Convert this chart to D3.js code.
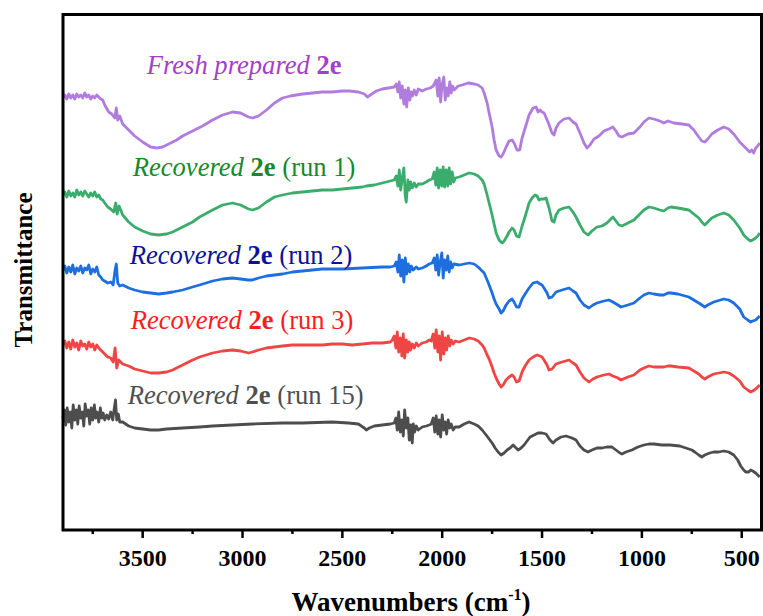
<!DOCTYPE html>
<html>
<head>
<meta charset="utf-8">
<script src="https://cdn.jsdelivr.net/npm/d3@7"></script>
<style>
  html, body { margin: 0; padding: 0; background: #fff; }
  svg { display: block; }
</style>
</head>
<body>
<svg id="chart" width="763" height="616"></svg>
<script>
// FTIR spectra: [wavenumber (cm-1), transmittance (a.u., stacked offset)]
const fresh = [
  [3900,86.6],[3890,87.0],[3880,86.2],[3870,87.2],[3860,86.4],[3850,87.0],[3840,86.2],[3830,87.2],[3820,86.6],[3810,87.0],
  [3800,86.4],[3790,87.4],[3780,86.6],[3770,87.0],[3760,86.2],[3750,86.8],[3740,86.4],[3730,87.0],[3720,86.6],[3710,86.2],
  [3700,86.0],[3690,85.0],[3670,83.6],[3655,83.2],[3640,82.4],[3632,84.4],[3625,82.0],[3615,82.8],[3600,81.2],[3570,80.0],
  [3540,78.8],[3500,77.6],[3460,76.6],[3430,76.4],[3400,76.6],[3370,77.2],[3330,78.0],[3300,78.8],[3250,79.8],[3200,80.8],
  [3150,82.0],[3100,83.0],[3050,83.6],[3010,83.4],[2970,82.6],[2950,82.4],[2920,82.8],[2880,84.0],[2840,85.4],[2800,86.4],
  [2760,86.8],[2700,87.2],[2650,87.4],[2600,87.6],[2550,87.6],[2500,87.8],[2465,87.8],[2420,87.6],[2390,87.2],[2375,86.6],
  [2360,87.0],[2330,87.8],[2300,88.2],[2270,88.4],[2240,88.6],[2230,89.2],[2222,87.6],[2215,89.6],[2208,86.4],[2200,88.8],
  [2192,85.2],[2185,88.0],[2178,84.6],[2170,88.4],[2162,86.0],[2155,87.6],[2148,86.8],[2140,88.0],[2130,87.0],[2120,88.2],
  [2100,87.8],[2080,88.2],[2060,88.4],[2045,88.8],[2030,90.0],[2022,86.8],[2015,90.4],[2008,85.6],[2000,89.2],[1992,90.6],
  [1985,86.0],[1978,88.4],[1970,86.8],[1962,89.6],[1955,87.4],[1948,88.8],[1940,88.0],[1920,88.8],[1900,89.0],[1870,89.4],
  [1840,89.2],[1820,89.0],[1800,88.4],[1790,87.4],[1775,85.4],[1765,83.4],[1750,80.6],[1740,78.0],[1730,76.0],[1715,74.8],
  [1705,74.6],[1695,75.2],[1680,76.6],[1665,77.8],[1650,78.0],[1640,77.4],[1625,76.0],[1612,76.0],[1600,78.4],[1580,81.0],
  [1565,83.0],[1545,84.4],[1530,84.6],[1520,83.6],[1510,84.0],[1500,83.6],[1490,83.4],[1470,81.6],[1450,79.4],[1440,79.0],
  [1430,80.4],[1415,81.4],[1390,82.2],[1365,82.4],[1345,81.6],[1330,81.2],[1310,79.4],[1290,77.4],[1275,76.4],[1260,77.0],
  [1240,78.2],[1215,78.8],[1190,79.8],[1165,80.2],[1145,80.6],[1130,79.8],[1115,78.8],[1100,78.6],[1070,79.2],[1040,79.4],
  [1010,80.6],[990,81.6],[965,82.4],[940,82.2],[910,81.8],[890,81.4],[870,81.8],[840,81.4],[800,81.2],[765,81.0],
  [740,80.0],[715,78.6],[700,77.8],[685,77.6],[670,78.2],[650,79.2],[620,80.0],[590,80.6],[565,80.2],[540,79.2],
  [510,77.6],[480,76.4],[460,75.6],[450,76.0],[440,75.4],[430,76.4],[420,76.8],[410,77.4]
];

const run1 = [
  [3900,67.0],[3890,67.6],[3880,66.6],[3870,67.8],[3860,66.8],[3850,67.4],[3840,66.6],[3830,68.0],[3820,67.0],[3810,67.6],
  [3800,66.8],[3790,67.8],[3780,67.2],[3770,66.6],[3760,67.4],[3750,66.8],[3740,67.6],[3730,66.6],[3720,67.0],[3710,66.2],
  [3700,66.0],[3690,65.4],[3675,64.6],[3660,64.2],[3645,63.6],[3635,65.4],[3628,63.2],[3618,64.8],[3600,63.0],[3570,61.6],
  [3540,60.6],[3500,59.8],[3460,59.2],[3420,59.0],[3380,59.2],[3350,59.6],[3300,60.6],[3250,61.6],[3215,62.6],[3150,64.0],
  [3100,65.0],[3050,65.4],[3010,65.0],[2970,64.2],[2950,64.0],[2920,64.4],[2880,65.6],[2840,66.6],[2800,67.0],[2750,67.4],
  [2700,67.6],[2650,67.8],[2600,68.0],[2550,68.0],[2500,68.2],[2450,68.4],[2400,68.6],[2380,68.8],[2340,69.0],[2300,69.4],
  [2260,69.8],[2240,70.0],[2230,70.8],[2222,68.8],[2215,72.0],[2208,68.0],[2200,70.4],[2192,72.4],[2185,66.8],[2180,65.6],
  [2172,70.0],[2165,68.0],[2158,69.6],[2150,68.4],[2140,69.4],[2130,68.6],[2120,69.2],[2100,69.2],[2080,69.6],[2065,70.0],
  [2050,70.2],[2040,71.6],[2032,69.0],[2025,72.4],[2018,68.4],[2010,72.0],[2002,68.8],[1995,72.6],[1988,68.6],[1980,72.0],
  [1972,68.8],[1965,72.4],[1958,69.2],[1950,71.6],[1942,69.6],[1935,70.4],[1915,70.6],[1890,71.0],[1865,71.4],[1840,71.2],
  [1820,70.8],[1800,70.0],[1790,69.2],[1775,67.0],[1765,65.4],[1750,63.0],[1740,61.2],[1730,59.4],[1715,58.0],[1700,57.4],
  [1690,57.8],[1675,58.8],[1665,59.6],[1650,60.4],[1640,60.0],[1628,58.8],[1615,58.6],[1600,60.8],[1590,62.0],[1575,64.0],
  [1565,65.4],[1550,66.4],[1535,67.0],[1525,66.8],[1515,66.0],[1505,66.2],[1490,66.2],[1480,66.4],[1465,64.4],[1450,61.8],
  [1440,61.6],[1430,63.0],[1415,64.0],[1390,64.4],[1365,64.6],[1345,63.6],[1330,62.6],[1310,61.0],[1290,59.6],[1270,59.0],
  [1250,59.8],[1225,60.6],[1200,60.8],[1175,61.4],[1145,62.6],[1130,61.8],[1115,61.0],[1100,60.8],[1070,61.4],[1040,62.0],
  [1010,63.2],[990,64.0],[965,64.6],[940,64.4],[910,64.0],[890,63.8],[870,64.4],[855,64.6],[820,64.4],[765,64.0],
  [740,63.2],[715,62.4],[700,61.6],[685,61.0],[670,61.6],[650,62.4],[620,63.0],[590,63.4],[565,63.0],[540,62.0],
  [510,60.4],[490,59.0],[470,58.2],[455,57.8],[445,58.0],[430,58.4],[420,58.8],[410,59.4]
];

const run2 = [
  [3900,52.0],[3890,52.8],[3880,51.4],[3870,52.6],[3860,51.6],[3850,53.0],[3840,51.2],[3830,52.4],[3820,51.8],[3810,52.8],
  [3800,51.4],[3790,52.4],[3780,52.0],[3770,53.0],[3760,51.2],[3750,52.2],[3740,51.6],[3730,52.6],[3720,51.0],[3710,50.6],
  [3700,50.0],[3690,49.8],[3675,49.4],[3660,49.6],[3648,49.0],[3638,52.0],[3632,53.2],[3625,49.4],[3615,48.8],[3600,49.0],
  [3570,48.4],[3540,48.0],[3500,47.6],[3460,47.4],[3420,47.2],[3380,47.4],[3350,47.6],[3300,48.0],[3250,48.6],[3215,49.0],
  [3150,49.8],[3100,50.2],[3050,50.4],[3010,50.2],[2970,50.0],[2950,50.0],[2920,50.4],[2880,50.8],[2840,51.0],[2800,51.2],
  [2750,51.6],[2700,51.8],[2650,52.0],[2600,52.2],[2500,52.2],[2400,52.4],[2300,52.6],[2260,52.6],[2240,52.8],[2230,53.6],
  [2222,51.6],[2215,55.0],[2208,50.8],[2200,54.0],[2192,49.6],[2185,54.4],[2178,51.2],[2170,53.2],[2162,51.6],[2155,52.8],
  [2145,52.0],[2130,52.6],[2120,52.2],[2100,52.4],[2080,52.8],[2065,53.2],[2050,53.4],[2040,54.4],[2032,52.0],[2025,55.0],
  [2018,51.0],[2010,53.6],[2002,55.4],[1995,50.4],[1988,54.0],[1980,52.0],[1972,54.8],[1965,51.6],[1958,53.6],[1950,52.4],
  [1942,53.2],[1915,53.0],[1890,53.2],[1865,53.4],[1840,53.2],[1820,52.6],[1800,51.8],[1790,51.4],[1775,50.0],[1765,49.0],
  [1750,47.4],[1740,46.2],[1730,45.2],[1715,44.2],[1705,43.4],[1695,43.8],[1680,45.0],[1665,45.8],[1650,46.2],[1640,45.6],
  [1628,44.6],[1615,44.6],[1600,46.2],[1585,47.2],[1565,48.4],[1545,49.4],[1525,49.6],[1510,49.2],[1500,49.0],[1490,48.4],
  [1475,47.4],[1465,46.4],[1450,46.6],[1430,47.6],[1400,48.0],[1365,48.4],[1345,47.8],[1330,47.4],[1310,46.0],[1290,45.0],
  [1265,44.4],[1245,45.0],[1225,45.4],[1190,45.8],[1165,46.0],[1145,45.6],[1120,45.0],[1105,44.6],[1070,45.0],[1040,45.4],
  [1010,46.4],[990,47.0],[965,47.4],[940,47.2],[910,47.0],[890,47.0],[870,47.4],[855,47.4],[820,47.2],[765,46.6],
  [740,46.0],[715,45.4],[700,45.0],[685,44.6],[670,45.0],[640,45.6],[590,46.2],[565,46.0],[540,45.4],[510,44.2],
  [490,42.6],[470,42.0],[455,41.6],[445,41.8],[430,42.0],[420,42.4],[410,42.8]
];

const run3 = [
  [3900,37.0],[3890,37.8],[3880,36.4],[3870,37.6],[3860,36.2],[3850,38.0],[3840,36.6],[3830,37.4],[3820,36.0],[3810,37.8],
  [3800,36.8],[3790,37.2],[3780,36.2],[3770,37.6],[3760,36.6],[3750,37.2],[3740,36.0],[3730,37.0],[3720,36.4],[3710,36.0],
  [3700,35.6],[3690,35.2],[3675,34.6],[3660,34.4],[3648,33.6],[3638,36.4],[3630,32.4],[3620,34.0],[3600,33.2],[3570,32.8],
  [3540,32.2],[3500,31.8],[3460,31.4],[3420,31.4],[3380,31.6],[3350,32.0],[3300,33.0],[3250,34.0],[3215,34.6],[3150,35.4],
  [3100,35.8],[3050,36.0],[3010,35.8],[2970,35.4],[2950,35.6],[2920,36.0],[2880,36.4],[2840,36.6],[2800,36.8],[2750,37.0],
  [2600,37.0],[2550,37.2],[2500,37.2],[2450,37.0],[2400,37.2],[2350,37.4],[2300,37.4],[2260,37.6],[2250,38.0],[2240,38.8],
  [2232,36.4],[2225,39.6],[2218,35.6],[2210,38.4],[2202,34.8],[2195,39.2],[2188,34.4],[2180,38.0],[2172,35.6],[2165,37.6],
  [2158,36.0],[2150,37.2],[2140,36.4],[2130,37.4],[2120,36.8],[2100,37.4],[2080,37.6],[2065,38.0],[2055,37.8],[2045,39.2],
  [2037,36.4],[2030,40.0],[2022,35.6],[2015,38.8],[2008,34.0],[2000,39.6],[1992,35.2],[1985,38.4],[1978,36.0],[1970,38.8],
  [1962,36.8],[1955,38.0],[1945,37.2],[1935,37.8],[1915,37.6],[1890,38.0],[1865,38.4],[1840,38.2],[1820,37.8],[1800,37.0],
  [1790,36.4],[1775,35.0],[1765,34.2],[1750,32.6],[1740,31.4],[1730,30.4],[1715,29.2],[1705,28.6],[1695,29.0],[1680,30.0],
  [1665,30.6],[1650,31.0],[1640,30.6],[1628,29.6],[1615,29.8],[1600,31.6],[1585,32.8],[1565,34.0],[1545,34.6],[1525,35.0],
  [1510,34.8],[1500,34.6],[1490,34.0],[1475,33.0],[1465,32.0],[1450,32.2],[1430,33.2],[1400,33.6],[1365,34.0],[1345,33.4],
  [1330,33.0],[1310,31.6],[1290,30.4],[1265,29.6],[1245,30.2],[1225,30.6],[1190,31.0],[1165,31.2],[1145,30.8],[1120,30.4],
  [1105,30.0],[1070,30.6],[1040,31.0],[1010,32.0],[990,32.4],[965,32.8],[940,32.6],[890,32.6],[870,32.8],[855,32.8],
  [820,32.6],[765,32.4],[740,31.8],[715,31.2],[700,30.6],[685,30.2],[670,30.6],[640,31.2],[590,31.6],[565,31.4],
  [540,30.8],[510,29.8],[490,28.6],[470,28.0],[455,27.6],[445,27.8],[430,28.2],[420,28.6],[410,29.0]
];

const run15 = [
  [3900,22.4],[3892,24.0],[3885,21.0],[3878,24.4],[3870,21.6],[3862,23.6],[3855,20.4],[3848,25.0],[3840,22.0],[3832,24.0],
  [3825,21.2],[3818,24.8],[3810,22.4],[3802,23.6],[3795,20.8],[3788,25.2],[3780,22.8],[3772,24.0],[3765,21.2],[3758,24.4],
  [3750,22.0],[3742,25.0],[3735,22.4],[3728,23.6],[3720,21.6],[3712,24.4],[3705,22.4],[3698,23.4],[3690,22.0],[3680,23.0],
  [3670,22.2],[3660,23.6],[3650,22.0],[3642,24.4],[3636,26.0],[3630,22.0],[3622,23.2],[3615,21.6],[3600,21.6],[3570,20.8],
  [3540,20.4],[3500,20.2],[3460,20.0],[3420,20.0],[3380,20.2],[3300,20.4],[3215,20.6],[3150,20.8],[3050,21.0],[2950,21.2],
  [2800,21.4],[2700,21.4],[2550,21.6],[2470,21.4],[2420,21.2],[2390,20.4],[2380,20.0],[2365,20.4],[2340,20.8],[2300,21.0],
  [2260,21.2],[2240,21.4],[2232,22.4],[2225,20.0],[2218,23.6],[2210,19.6],[2202,22.0],[2195,18.8],[2188,24.0],[2180,20.4],
  [2172,22.4],[2165,18.0],[2158,21.0],[2150,17.4],[2145,21.2],[2138,19.6],[2130,20.8],[2120,20.0],[2100,20.6],[2080,20.8],
  [2065,21.0],[2055,21.2],[2045,22.4],[2037,19.6],[2030,22.8],[2022,19.2],[2015,22.0],[2008,18.6],[2000,23.0],[1992,20.0],
  [1985,21.6],[1978,19.2],[1970,22.0],[1962,20.4],[1955,21.2],[1945,20.0],[1935,20.6],[1915,20.6],[1890,21.2],[1865,21.6],
  [1840,21.2],[1820,20.8],[1800,20.0],[1780,19.0],[1765,18.2],[1750,17.4],[1735,16.4],[1720,15.6],[1705,15.0],[1690,15.4],
  [1675,16.0],[1660,16.4],[1645,17.0],[1635,16.6],[1620,16.0],[1605,16.4],[1590,17.0],[1575,17.8],[1560,18.6],[1540,19.0],
  [1520,19.4],[1500,19.4],[1480,19.2],[1460,18.0],[1445,17.4],[1430,18.0],[1405,18.6],[1380,18.8],[1350,18.4],[1330,18.0],
  [1310,16.8],[1290,16.0],[1270,15.6],[1250,16.0],[1225,16.4],[1200,16.4],[1175,16.6],[1150,16.6],[1130,16.0],[1110,15.4],
  [1100,15.2],[1080,15.6],[1050,16.0],[1020,16.6],[990,17.0],[965,17.2],[940,17.2],[900,17.0],[860,17.0],[810,16.8],
  [780,16.4],[750,16.0],[735,15.6],[715,15.0],[700,14.6],[685,15.0],[660,15.4],[640,15.6],[615,15.6],[590,15.8],
  [565,15.6],[540,15.0],[520,14.0],[505,12.8],[490,12.0],[480,11.6],[465,11.6],[455,12.0],[445,11.8],[430,11.4],
  [420,11.0],[410,10.6]
];

const xTicks = [3500, 3000, 2500, 2000, 1500, 1000, 500];
const xMinorTicks = [3750, 3250, 2750, 2250, 1750, 1250, 750];

// Series styling and label text (italic part, bold part, plain part)
const series = [
  { data: fresh, line: "#b07ddf", text: "#a43fcc", italic: "Fresh prepared ", bold: "2e", plain: "",          lw: 3480, lv: 91.2 },
  { data: run1,  line: "#3aad6c", text: "#158a2b", italic: "Recovered ",      bold: "2e", plain: " (run 1)",  lw: 3550, lv: 70.8 },
  { data: run2,  line: "#1d6fe0", text: "#0d109c", italic: "Recovered ",      bold: "2e", plain: " (run 2)",  lw: 3565, lv: 53.2 },
  { data: run3,  line: "#f04545", text: "#fb1d1d", italic: "Recovered ",      bold: "2e", plain: " (run 3)",  lw: 3560, lv: 40.2 },
  { data: run15, line: "#4d4d4d", text: "#4f4f4f", italic: "Recovered ",      bold: "2e", plain: " (run 15)", lw: 3575, lv: 25.2 }
];

const serif = "'Liberation Serif', 'Times New Roman', Times, serif";
const svg = d3.select("#chart").attr("font-family", serif);
const plotLeft = 63, plotRight = 761.5, plotTop = 14.5, plotBottom = 530;

const x = d3.scaleLinear().domain([3900, 400]).range([62.8, 761.7]);
const y = d3.scaleLinear().domain([0, 103.1]).range([plotBottom, plotTop]);

const line = d3.line()
  .x(d => x(d[0]))
  .y(d => y(d[1]));

// spectra
svg.append("g")
  .selectAll("path")
  .data(series)
  .join("path")
  .attr("d", d => line(d.data))
  .attr("fill", "none")
  .attr("stroke", d => d.line)
  .attr("stroke-width", 2.8)
  .attr("stroke-linejoin", "round");

// series labels
const labels = svg.append("g")
  .selectAll("text")
  .data(series)
  .join("text")
  .attr("x", d => x(d.lw))
  .attr("y", d => y(d.lv))
  .attr("fill", d => d.text)
  .attr("font-family", serif)
  .attr("font-size", 26.6);
labels.append("tspan").attr("font-style", "italic").text(d => d.italic);
labels.append("tspan").attr("font-weight", "bold").text(d => d.bold);
labels.append("tspan").text(d => d.plain);

// bottom axis ticks
const axis = svg.append("g");
axis.selectAll("line.major")
  .data(xTicks)
  .join("line")
  .attr("class", "major")
  .attr("x1", d => x(d)).attr("x2", d => x(d))
  .attr("y1", plotBottom).attr("y2", plotBottom + 8)
  .attr("stroke", "#000").attr("stroke-width", 2.5);
axis.selectAll("line.minor")
  .data(xMinorTicks)
  .join("line")
  .attr("class", "minor")
  .attr("x1", d => x(d)).attr("x2", d => x(d))
  .attr("y1", plotBottom).attr("y2", plotBottom + 4)
  .attr("stroke", "#000").attr("stroke-width", 2.5);
axis.selectAll("text")
  .data(xTicks)
  .join("text")
  .attr("x", d => x(d))
  .attr("y", 566)
  .attr("text-anchor", "middle")
  .attr("font-family", serif)
  .attr("font-size", 24)
  .attr("font-weight", "bold")
  .text(d => d);

// frame
svg.append("rect")
  .attr("x", plotLeft).attr("y", plotTop)
  .attr("width", plotRight - plotLeft).attr("height", plotBottom - plotTop)
  .attr("fill", "none").attr("stroke", "#000").attr("stroke-width", 3);

// axis titles
const xt = svg.append("text")
  .attr("x", 411).attr("y", 611)
  .attr("text-anchor", "middle")
  .attr("font-family", serif)
  .attr("font-size", 27)
  .attr("font-weight", "bold");
xt.append("tspan").text("Wavenumbers (cm");
xt.append("tspan").attr("font-size", 16).attr("dy", -11).text("-1");
xt.append("tspan").attr("dy", 11).text(")");

svg.append("text")
  .attr("transform", "translate(32,270) rotate(-90)")
  .attr("text-anchor", "middle")
  .attr("font-family", serif)
  .attr("font-size", 25)
  .attr("font-weight", "bold")
  .text("Transmittance");
</script>
</body>
</html>
